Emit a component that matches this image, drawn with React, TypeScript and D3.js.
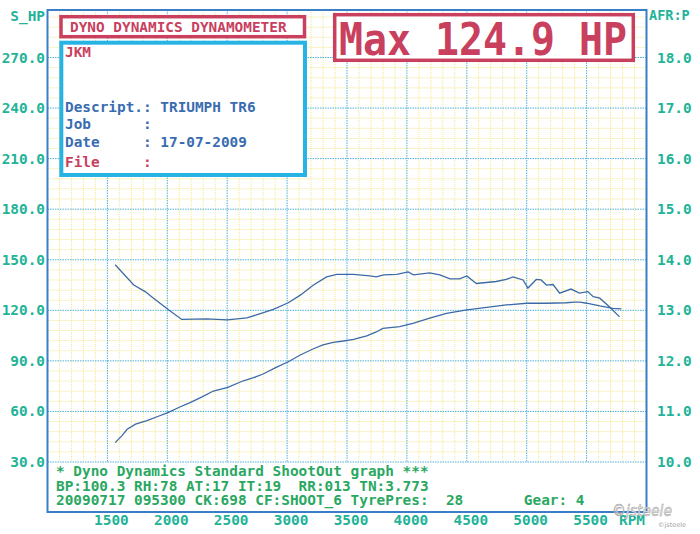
import React from 'react';
import * as d3 from 'd3';

// ---- Data ----
const powerRpm = [1565, 1620, 1665, 1735, 1830, 1920, 2010, 2100, 2190, 2290, 2385, 2505, 2635, 2720, 2800, 2900, 3010, 3110, 3220, 3300, 3385, 3470, 3555, 3665, 3740, 3800, 3940, 4050, 4190, 4330, 4500, 4665, 4830, 5000, 5165, 5330, 5400, 5445, 5500, 5610, 5720, 5790];
const powerHp = [41.5, 45.5, 49.4, 52.5, 54.5, 57.0, 59.5, 62.5, 65.2, 68.6, 72.1, 74.3, 78.2, 80.0, 82.2, 85.8, 89.5, 93.5, 97.2, 99.5, 101.0, 101.8, 102.8, 104.8, 107.0, 109.3, 110.3, 112.3, 115.3, 118.2, 120.2, 121.8, 123.2, 124.2, 124.2, 124.5, 124.9, 124.8, 124.2, 122.6, 121.2, 120.8];

const afrRpm = [1565, 1720, 1815, 1885, 2010, 2120, 2330, 2500, 2665, 2745, 2885, 3010, 3110, 3220, 3330, 3415, 3555, 3690, 3745, 3805, 3915, 4010, 4055, 4190, 4275, 4360, 4440, 4500, 4580, 4745, 4830, 4885, 4970, 5010, 5080, 5120, 5165, 5220, 5275, 5370, 5440, 5510, 5555, 5610, 5690, 5775];
const afrVal = [13.9, 13.5, 13.37, 13.24, 13.01, 12.82, 12.83, 12.81, 12.85, 12.91, 13.02, 13.15, 13.3, 13.5, 13.66, 13.71, 13.71, 13.68, 13.66, 13.7, 13.71, 13.76, 13.7, 13.74, 13.7, 13.62, 13.62, 13.68, 13.53, 13.57, 13.61, 13.66, 13.6, 13.44, 13.61, 13.6, 13.5, 13.51, 13.34, 13.42, 13.34, 13.37, 13.27, 13.24, 13.07, 12.87];

const hpTicks = [30, 60, 90, 120, 150, 180, 210, 240, 270];
const afrTicks = [10, 11, 12, 13, 14, 15, 16, 17, 18];
const rpmTicks = [1500, 2000, 2500, 3000, 3500, 4000, 4500, 5000, 5500];

const titleText = 'DYNO DYNAMICS DYNAMOMETER';
const maxText = 'Max 124.9 HP';
const infoLines = [
  { text: 'JKM', red: true },
  { text: 'Descript.: TRIUMPH TR6', red: false },
  { text: 'Job      :', red: false },
  { text: 'Date     : 17-07-2009', red: false },
  { text: 'File     :', red: true },
];
const footerLines = [
  '* Dyno Dynamics Standard ShootOut graph ***',
  'BP:100.3 RH:78 AT:17 IT:19  RR:013 TN:3.773',
  '20090717 095300 CK:698 CF:SHOOT_6 TyrePres:  28       Gear: 4',
];

const W = 700;
const H = 534;
const FRAME = { left: 47.5, right: 646.5, top: 10, bottom: 512 };
const MONO = "'DejaVu Sans Mono', monospace";
const TEAL = '#22b398';
const GREEN = '#2aa862';
const RED = '#c8405e';
const BLUE = '#3a6cb0';

const nb = (s: string) => s.replace(/ /g, '\u00a0');

export default function App() {
  const x = d3.scaleLinear().domain([1000, 6000]).range([FRAME.left, FRAME.right]);
  const y = d3.scaleLinear().domain([30, 270]).range([462, 57.5]);
  const yAfr = d3.scaleLinear().domain([10, 18]).range([462, 57.5]);
  const plotBottom = y(30);

  const minorX = d3.range(1100, 6000, 100).filter((v) => v % 500 !== 0);
  const minorY = d3.range(36, 300, 6).filter((v) => v % 30 !== 0 && y(v) > FRAME.top + 1);
  const majorY = [...hpTicks, 300].filter((v) => y(v) > FRAME.top + 1);

  const powerPts: [number, number][] = powerRpm.map((r, i) => [r, powerHp[i]]);
  const afrPts: [number, number][] = afrRpm.map((r, i) => [r, afrVal[i]]);
  const powerLine = d3.line<[number, number]>().x((d) => x(d[0])).y((d) => y(d[1]));
  const afrLine = d3.line<[number, number]>().x((d) => x(d[0])).y((d) => yAfr(d[1]));

  return (
    <div style={{ position: 'absolute', left: 0, top: 0 }}>
      <svg width={W} height={H} style={{ display: 'block', background: '#fff' }}>
        {/* minor grid */}
        <g stroke="#f1df6a" strokeWidth={1} strokeDasharray="1,1" opacity={0.75}>
          {minorX.map((v) => (
            <line key={'mx' + v} x1={x(v)} x2={x(v)} y1={FRAME.top} y2={plotBottom} />
          ))}
          {minorY.map((v) => (
            <line key={'my' + v} x1={FRAME.left} x2={FRAME.right} y1={y(v)} y2={y(v)} />
          ))}
        </g>
        {/* major grid */}
        <g stroke="#4fb0d8" strokeWidth={1} strokeDasharray="1.5,1">
          {rpmTicks.map((v) => (
            <line key={'Mx' + v} x1={x(v)} x2={x(v)} y1={FRAME.top} y2={plotBottom} />
          ))}
          {majorY.map((v) => (
            <line key={'My' + v} x1={FRAME.left} x2={FRAME.right} y1={y(v)} y2={y(v)} />
          ))}
        </g>

        {/* curves */}
        <path d={afrLine(afrPts) || ''} fill="none" stroke="#3d6aa6" strokeWidth={1.3} />
        <path d={powerLine(powerPts) || ''} fill="none" stroke="#3d6aa6" strokeWidth={1.3} />

        {/* frame */}
        <rect x={FRAME.left} y={FRAME.top} width={FRAME.right - FRAME.left} height={FRAME.bottom - FRAME.top}
          fill="none" stroke="#3b7ec8" strokeWidth={2} />

        {/* axes labels */}
        <g fontFamily={MONO} fontWeight="bold" fontSize={14.4} fill={TEAL}>
          <text x={45} y={21} textAnchor="end">S_HP</text>
          {hpTicks.map((v) => (
            <text key={'l' + v} x={45} y={y(v) + 5} textAnchor="end">{v.toFixed(1)}</text>
          ))}
          <text x={649} y={20} fontSize={13.5}>AFR:P</text>
          {afrTicks.map((v) => (
            <text key={'r' + v} x={657} y={yAfr(v) + 5}>{v.toFixed(1)}</text>
          ))}
          {rpmTicks.map((v) => (
            <text key={'b' + v} x={x(v) + 4} y={525} textAnchor="middle">{v}</text>
          ))}
          <text x={645} y={525} textAnchor="end">RPM</text>
        </g>

        {/* footer text */}
        <g fontFamily={MONO} fontWeight="bold" fontSize={14.4} fill={GREEN}>
          {footerLines.map((t, i) => (
            <text key={'f' + i} x={56} y={476 + i * 14.7}>{nb(t)}</text>
          ))}
        </g>

        {/* title box */}
        <rect x={61} y={16.7} width={243.5} height={20} fill="#fff" stroke={RED} strokeWidth={3.5} />
        <text x={70} y={32} fontFamily={MONO} fontSize={14.4} fontWeight="bold" fill={RED}>{titleText}</text>

        {/* info box */}
        <rect x={61.3} y={42.7} width={243.7} height={132.3} fill="#fff" stroke="#27b3e3" strokeWidth={4} />
        <g fontFamily={MONO} fontWeight="bold" fontSize={14.4}>
          {infoLines.map((l, i) => {
            const ys = [57, 112, 129, 147, 167];
            return (
              <text key={'i' + i} x={65} y={ys[i]} fill={l.red ? RED : BLUE}>{nb(l.text)}</text>
            );
          })}
        </g>

        {/* max box */}
        <rect x={334.7} y={14.7} width={298.6} height={45.6} fill="#fff" stroke={RED} strokeWidth={3.5} />
        <text x={339} y={55} fontFamily={MONO} fontSize={44} fontWeight="bold" fill={RED}
          textLength={288} lengthAdjust="spacingAndGlyphs">{nb(maxText)}</text>

        {/* watermark */}
        <text x={612} y={516} fontFamily="'DejaVu Sans', sans-serif" fontStyle="italic" fontSize={16}
          fill="#e6e6e6" stroke="#9c9c9c" strokeWidth={0.5} textLength={60} lengthAdjust="spacingAndGlyphs">©jsteele</text>
        <text x={658} y={527} fontFamily="'DejaVu Sans', sans-serif" fontSize={6.5} fill="#a0a0a0">©jsteele</text>
      </svg>
    </div>
  );
}
